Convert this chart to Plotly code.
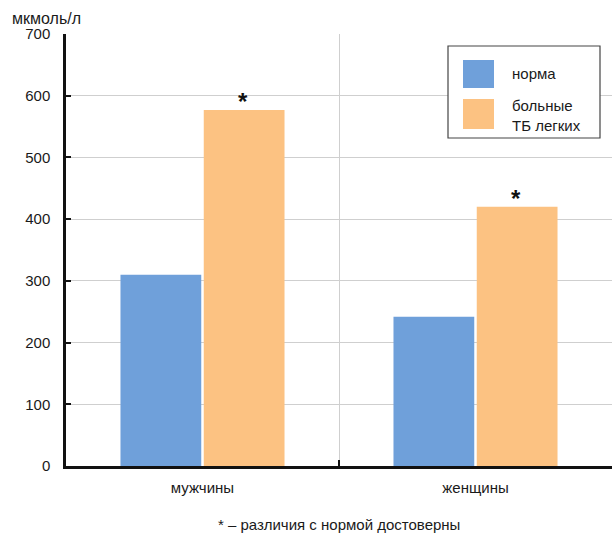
import plotly.graph_objects as go

categories = ["мужчины", "женщины"]
norm_values = [310, 242]
tb_values = [577, 420]
series_names = ["норма", "больные<br>ТБ легких"]
significant = [True, True]
y_ticks = [0, 100, 200, 300, 400, 500, 600, 700]

BLUE = "#6FA0DA"
ORANGE = "#FCC282"
FONT = "Liberation Sans, Arial, sans-serif"

fig = go.Figure()
fig.add_trace(go.Bar(x=categories, y=norm_values, name=series_names[0],
                     marker=dict(color=BLUE, line=dict(width=0)), showlegend=False))
fig.add_trace(go.Bar(x=categories, y=tb_values, name=series_names[1],
                     marker=dict(color=ORANGE, line=dict(width=0)), showlegend=False))

# asterisks above significant bars (orange series = second offset group)
for cat, val, sig in zip(categories, tb_values, significant):
    if sig:
        fig.add_annotation(x=cat, y=val, text="<b>*</b>", showarrow=False,
                           xref="x", yref="y", yanchor="bottom", yshift=-7,
                           xshift=40, font=dict(size=24, color="#111", family=FONT))

# manual legend with large swatches
fig.add_shape(type="rect", xref="paper", yref="paper",
              x0=(448-66)/546, x1=(600-66)/546, y0=(466-138)/432, y1=(466-46)/432,
              line=dict(color="#444", width=1.2), fillcolor="white", layer="above")
fig.add_shape(type="rect", xref="paper", yref="paper",
              x0=(463-66)/546, x1=(494-66)/546, y0=(466-88)/432, y1=(466-60)/432,
              line=dict(width=0), fillcolor=BLUE, layer="above")
fig.add_shape(type="rect", xref="paper", yref="paper",
              x0=(463-66)/546, x1=(494-66)/546, y0=(466-129)/432, y1=(466-99)/432,
              line=dict(width=0), fillcolor=ORANGE, layer="above")
fig.add_annotation(xref="paper", yref="paper", x=(510-66)/546, y=(466-74)/432,
                   text=series_names[0], showarrow=False, xanchor="left", yanchor="middle",
                   font=dict(size=15, color="#1a1a1a", family=FONT))
fig.add_annotation(xref="paper", yref="paper", x=(510-66)/546, y=(466-116)/432,
                   text=series_names[1], showarrow=False, xanchor="left", yanchor="middle",
                   align="left", font=dict(size=15, color="#1a1a1a", family=FONT))

# unit label and footnote
fig.add_annotation(xref="paper", yref="paper", x=(10-66)/546, y=(466-18)/432,
                   text="мкмоль/л", showarrow=False, xanchor="left", yanchor="middle",
                   font=dict(size=16, color="#1a1a1a", family=FONT))
fig.add_annotation(xref="paper", yref="paper", x=(339-66)/546, y=(466-524)/432,
                   text="* – различия с нормой достоверны", showarrow=False,
                   xanchor="center", yanchor="middle",
                   font=dict(size=15, color="#1a1a1a", family=FONT))

fig.update_layout(
    width=616, height=535,
    margin=dict(l=66, r=4, t=34, b=69),
    paper_bgcolor="white", plot_bgcolor="white",
    barmode="group", bargap=0.39, bargroupgap=0.03,
    font=dict(family=FONT, size=15, color="#1a1a1a"),
    showlegend=False,
)
fig.update_xaxes(
    type="category", tickson="boundaries", ticks="inside", ticklen=6,
    tickcolor="#111", tickwidth=2,
    showgrid=True, gridcolor="#cfcfcf", gridwidth=1,
    showline=True, linecolor="#111", linewidth=2.5,
    tickfont=dict(size=15, color="#1a1a1a"), ticklabelstandoff=6,
)
fig.update_yaxes(
    range=[0, 700], tickvals=y_ticks, ticks="inside", ticklen=5,
    tickcolor="#111", tickwidth=2,
    showgrid=True, gridcolor="#cfcfcf", gridwidth=1,
    showline=True, linecolor="#111", linewidth=2.5, zeroline=False,
    tickfont=dict(size=15, color="#1a1a1a"), ticklabelstandoff=10,
)

fig.write_html("out.html", config={"displayModeBar": False},
               post_script="document.body.style.margin='0';document.body.style.padding='0';")
